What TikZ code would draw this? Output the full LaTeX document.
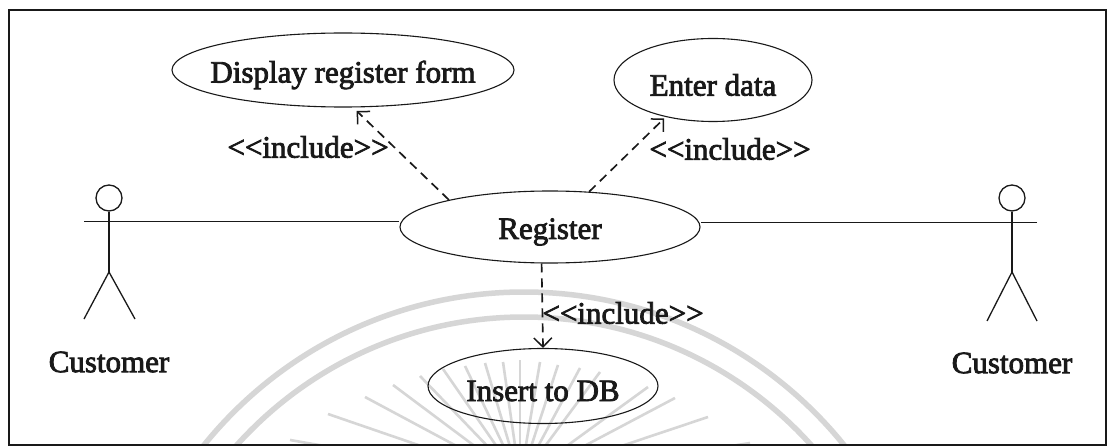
\documentclass[tikz,border=0pt]{standalone}
\usepackage{fontspec}
\setmainfont[FakeBold=2.6]{Liberation Serif}
\usetikzlibrary{shapes.geometric,arrows.meta,calc}
\definecolor{ink}{gray}{0.1}
\definecolor{wm}{gray}{0.84}
\tikzset{
  usecase/.style={ellipse,draw=ink,line width=1.1pt,inner sep=0pt,fill=none},
  inc/.style={draw=ink,line width=1.7pt,dash pattern=on 9pt off 6pt,-{Straight Barb[length=9pt,width=18pt,line width=1.5pt]}},
  lbl/.style={inner sep=0pt,text=ink,font=\fontsize{31}{33}\selectfont},
  limb/.style={draw=ink,line width=1.3pt},
  assoc/.style={draw=ink,line width=1pt},
  ring/.style={draw=wm,line width=5.5pt},
  rayw/.style={draw=wm,line width=2.6pt},
}
\begin{document}
\begin{tikzpicture}[x=1pt,y=-1pt]
\useasboundingbox (0,0) rectangle (1107,446);
\fill[white] (0,0) rectangle (1107,446);
% watermark
\begin{scope}
\clip (8,8) rectangle (1105,444);
\draw[ring] (524,703) circle[radius=411];
\draw[ring] (524,703) circle[radius=386];
\foreach \x/\y in {290/440,328/414,365/397,393/385,420/376,443/369,465/366,485/363,503/362,520/360,540/362,558/365,580/368,600/372,648/387,675/398,708/417,750/443}{
  \draw[rayw] (\x,\y) -- ($(\x,\y)!0.8!(520,480)$);
}
\end{scope}
% frame
\node[draw=ink,line width=2.2pt,minimum width=1097pt,minimum height=435pt,inner sep=0pt,anchor=north west] (frame) at (8,9) {};
% use cases
\node[usecase,minimum width=342pt,minimum height=74pt] (disp) at (343,70) {};
\node[lbl] (displ) at (343,75) {Display register form};
\node[usecase,minimum width=198pt,minimum height=83pt] (enter) at (713,80) {};
\node[lbl] (enterl) at (713,85) {Enter data};
\node[usecase,minimum width=300pt,minimum height=72pt] (reg) at (550,227) {};
\node[lbl] (regl) at (550,232) {Register};
\node[usecase,minimum width=230pt,minimum height=75pt] (ins) at (543,386) {};
\node[lbl] (insl) at (543,391) {Insert to DB};
% left actor
\node[circle,draw=ink,line width=1.3pt,minimum size=26pt,inner sep=0pt] (headL) at (109,198) {};
\coordinate (hipL) at (109,272);
\coordinate (handL) at (84,222);
\coordinate (footLa) at (84,319);
\coordinate (footLb) at (135,319);
\draw[limb] (headL.south) -- (hipL);
\draw[limb] (footLa) -- (hipL) -- (footLb);
\node[lbl] (custL) at (109,362) {Customer};
% right actor
\node[circle,draw=ink,line width=1.3pt,minimum size=26pt,inner sep=0pt] (headR) at (1012,198) {};
\coordinate (hipR) at (1012,272);
\coordinate (handR) at (1037,223);
\coordinate (footRa) at (987,321);
\coordinate (footRb) at (1037,321);
\draw[limb] (headR.south) -- (hipR);
\draw[limb] (footRa) -- (hipR) -- (footRb);
\node[lbl] (custR) at (1012,363) {Customer};
% associations
\draw[assoc] (handL) -- (reg.west |- handL);
\draw[assoc] (handR) -- (reg.east |- handR);
% includes
\draw[inc,shorten >=5pt] (reg.165) -- (disp.285);
\draw[inc,shorten >=2pt] (reg.42) -- (enter.218);
\draw[inc] (reg.257) -- (ins.north);
\node[lbl] (i1) at (308,147) {<{}<include>{}>};
\node[lbl] (i2) at (730,149) {<{}<include>{}>};
\node[lbl] (i3) at (623,313) {<{}<include>{}>};
\end{tikzpicture}
\end{document}
